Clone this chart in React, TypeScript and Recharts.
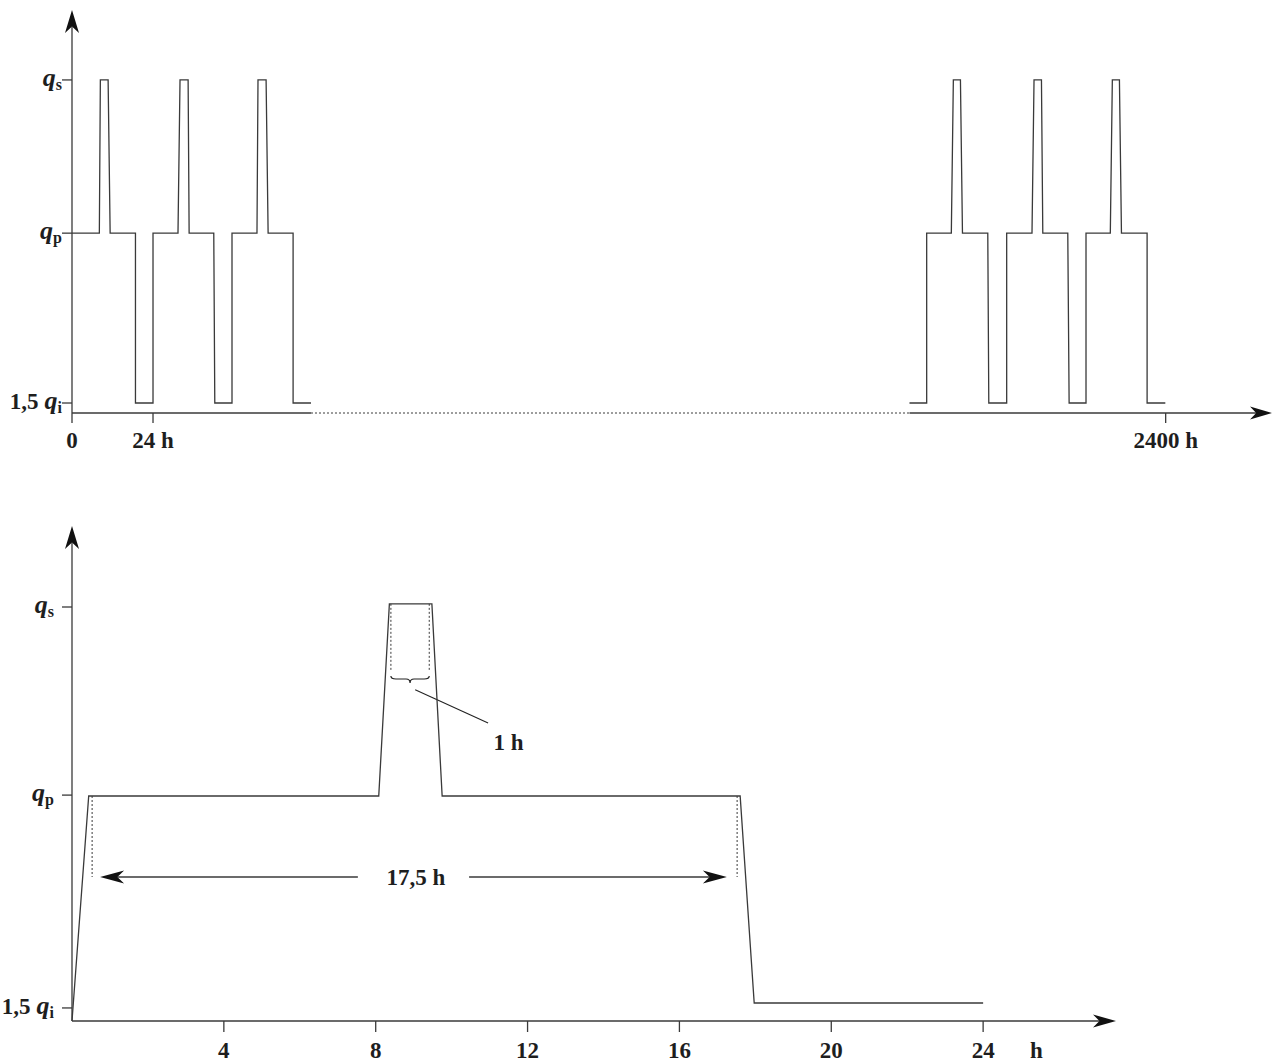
import React from 'react';
import { LineChart, Line, XAxis, YAxis, ReferenceLine, ReferenceDot } from 'recharts';

const FONT = '"Liberation Serif", "DejaVu Serif", serif';
const INK = '#3a3a3a';
const TEXT = '#1e1e1e';

// ---------- top chart (virtual time axis: 24 h per day, broken between day 3 and day 98) ----------
const TOP_QI = 3;
const TOP_QP = 54;
const TOP_QS = 100;

const topFirstT = [0, 8.1, 8.4, 10.7, 11.3, 18.8, 18.8, 24, 24, 31.4, 32, 34.4, 34.7, 42, 42.3, 47.4, 47.4, 54.8, 55.1, 57.5, 58.1, 65.5, 65.5, 70.8];
const topFirstQ = [TOP_QP, TOP_QP, TOP_QS, TOP_QS, TOP_QP, TOP_QP, TOP_QI, TOP_QI, TOP_QP, TOP_QP, TOP_QS, TOP_QS, TOP_QP, TOP_QP, TOP_QI, TOP_QI, TOP_QP, TOP_QP, TOP_QS, TOP_QS, TOP_QP, TOP_QP, TOP_QI, TOP_QI];
const topLastT = [248.1, 253.2, 253.2, 260.5, 261.1, 263.2, 263.8, 271.3, 271.6, 276.9, 276.9, 284.4, 285.0, 287.2, 287.6, 295.0, 295.4, 300.4, 300.4, 307.6, 308.2, 310.3, 310.9, 318.5, 318.5, 323.9];
const topLastQ = [TOP_QI, TOP_QI, TOP_QP, TOP_QP, TOP_QS, TOP_QS, TOP_QP, TOP_QP, TOP_QI, TOP_QI, TOP_QP, TOP_QP, TOP_QS, TOP_QS, TOP_QP, TOP_QP, TOP_QI, TOP_QI, TOP_QP, TOP_QP, TOP_QS, TOP_QS, TOP_QP, TOP_QP, TOP_QI, TOP_QI];

const topXTicks = [0, 24, 324];
const topXLabels = ['0', '24 h', '2400 h'];
const topYTicks = [TOP_QI, TOP_QP, TOP_QS];
const TOP_X_MAX = 355.5;
const TOP_Y_MAX = 121;
const TOP_GAP_START = 70.8;
const TOP_GAP_END = 248.1;

// ---------- bottom chart (one day, hours) ----------
const BOT_QI = 4;
const BOT_QP = 50;
const BOT_QS = 92.7;

const botT = [0, 0.44, 8.08, 8.36, 9.48, 9.75, 17.6, 17.97, 24];
const botQ = [0, BOT_QP, BOT_QP, BOT_QS, BOT_QS, BOT_QP, BOT_QP, BOT_QI, BOT_QI];

const botXTicks = [4, 8, 12, 16, 20, 24, 25.4];
const botXLabels = ['4', '8', '12', '16', '20', '24', 'h'];
const botYTicks = [2.9, 50.2, 92];
const BOT_X_MAX = 27.5;
const BOT_Y_MAX = 110;

// annotation values (hours / level units)
const spanStart = 0.53;
const spanEnd = 17.52;
const spanArrowLeftTip = 0.74;
const spanArrowRightTip = 17.25;
const spanGapLeft = 7.53;
const spanGapRight = 10.46;
const spanLevel = 32;
const spanLabel = '17,5 h';
const spanLabelT = 9.06;

const peakDotLeft = 8.4;
const peakDotRight = 9.41;
const peakDotBottom = 77.8;
const braceLevel = 76;
const leaderFrom = { x: 9.04, y: 73.6 };
const leaderTo = { x: 10.96, y: 66.2 };
const peakLabel = '1 h';
const peakLabelPos = { x: 11.5, y: 62 };

// shared tick label parts
const yTickPrefix = ['1,5', '', ''];
const yTickSub = ['i', 'p', 's'];

const topData = [
  ...topFirstT.map((t, i) => ({ t, q: topFirstQ[i] as number | null })),
  { t: (TOP_GAP_START + TOP_GAP_END) / 2, q: null },
  ...topLastT.map((t, i) => ({ t, q: topLastQ[i] as number | null })),
];
const botData = botT.map((t, i) => ({ t, q: botQ[i] }));

type SegOpts = { head?: boolean; dash?: string; len?: number; half?: number; w?: number; color?: string };
const seg = (o: SegOpts) => (p: any) => {
  const { x1, y1, x2, y2 } = p;
  const dx = x2 - x1;
  const dy = y2 - y1;
  const L = Math.sqrt(dx * dx + dy * dy) || 1;
  const ux = dx / L;
  const uy = dy / L;
  const len = o.len ?? 23;
  const half = o.half ?? 7;
  const nx = -uy;
  const ny = ux;
  const bx = x2 - ux * len;
  const by = y2 - uy * len;
  const mx = x2 - ux * len * 0.72;
  const my = y2 - uy * len * 0.72;
  const color = o.color ?? INK;
  return (
    <g>
      <line
        x1={x1}
        y1={y1}
        x2={o.head ? mx : x2}
        y2={o.head ? my : y2}
        stroke={color}
        strokeWidth={o.w ?? 1.3}
        strokeDasharray={o.dash}
      />
      {o.head && (
        <polygon
          points={`${x2},${y2} ${bx + nx * half},${by + ny * half} ${mx},${my} ${bx - nx * half},${by - ny * half}`}
          fill="#111"
        />
      )}
    </g>
  );
};

const braceShape = (p: any) => {
  const { x1, y1, x2 } = p;
  const y = y1;
  const xm = (x1 + x2) / 2;
  const d = `M ${x1} ${y - 3} Q ${x1} ${y} ${x1 + 5} ${y} L ${xm - 4} ${y} Q ${xm} ${y} ${xm} ${y + 4} Q ${xm} ${y} ${xm + 4} ${y} L ${x2 - 5} ${y} Q ${x2} ${y} ${x2} ${y - 3}`;
  return <path d={d} fill="none" stroke="#222" strokeWidth={1.2} />;
};

const textShape = (label: string) => (p: any) => (
  <text x={p.cx} y={p.cy + 8} textAnchor="middle" fontFamily={FONT} fontWeight="bold" fontSize={23} fill={TEXT}>
    {label}
  </text>
);

const makeYTick = (ticks: number[], labelRight: number) => (props: any) => {
  const { x, y, payload } = props;
  const i = ticks.indexOf(payload.value);
  const prefix = yTickPrefix[i] ?? '';
  const sub = yTickSub[i] ?? '';
  return (
    <g>
      <line x1={x - 10} y1={y} x2={x} y2={y} stroke={INK} strokeWidth={1.3} />
      <text x={labelRight} y={y + 6} textAnchor="end" fontFamily={FONT} fontWeight="bold" fontSize={23} fill={TEXT}>
        {prefix ? <tspan>{prefix}</tspan> : null}
        <tspan fontStyle="italic" fontSize={26} dx={prefix ? 6 : 0}>q</tspan>
        <tspan fontSize={16} dy={4}>{sub}</tspan>
      </text>
    </g>
  );
};

const makeXTick = (ticks: number[], labels: string[], tickLen: number, textOffset: number, noLine: string[]) => (props: any) => {
  const { x, y, payload } = props;
  const i = ticks.indexOf(payload.value);
  const label = labels[i] ?? '';
  return (
    <g>
      {!noLine.includes(label) && <line x1={x} y1={y} x2={x} y2={y + tickLen} stroke={INK} strokeWidth={1.3} />}
      <text x={x} y={y + textOffset} textAnchor="middle" fontFamily={FONT} fontWeight="bold" fontSize={23} fill={TEXT}>
        {label}
      </text>
    </g>
  );
};

export default function App() {
  return (
    <div style={{ position: 'absolute', left: 0, top: 0, width: 1273, height: 1063, background: '#fff' }}>
      <div style={{ position: 'absolute', left: 0, top: 0 }}>
        <LineChart width={1273} height={470} data={topData} margin={{ top: 10, right: 1, bottom: 0, left: 0 }}>
          <XAxis
            dataKey="t"
            type="number"
            domain={[0, TOP_X_MAX]}
            ticks={topXTicks}
            interval={0}
            height={57}
            axisLine={false}
            tickLine={false}
            tickSize={0}
            tickMargin={0}
            tick={makeXTick(topXTicks, topXLabels, 10, 35, [])}
          />
          <YAxis
            type="number"
            domain={[0, TOP_Y_MAX]}
            ticks={topYTicks}
            interval={0}
            width={72}
            axisLine={false}
            tickLine={false}
            tickSize={0}
            tickMargin={0}
            tick={makeYTick(topYTicks, 62)}
          />
          <ReferenceLine segment={[{ x: 0, y: 0 }, { x: 0, y: TOP_Y_MAX }]} ifOverflow="visible" shape={seg({ head: true, len: 23, half: 7 })} />
          <ReferenceLine segment={[{ x: 0, y: 0 }, { x: TOP_GAP_START, y: 0 }]} ifOverflow="visible" shape={seg({})} />
          <ReferenceLine segment={[{ x: TOP_GAP_START, y: 0 }, { x: TOP_GAP_END, y: 0 }]} ifOverflow="visible" shape={seg({ dash: '2 2', w: 1 })} />
          <ReferenceLine segment={[{ x: TOP_GAP_END, y: 0 }, { x: TOP_X_MAX, y: 0 }]} ifOverflow="visible" shape={seg({ head: true, len: 22, half: 6.5 })} />
          <Line dataKey="q" type="linear" stroke={INK} strokeWidth={1.3} dot={false} activeDot={false} isAnimationActive={false} />
        </LineChart>
      </div>
      <div style={{ position: 'absolute', left: 0, top: 500 }}>
        <LineChart width={1273} height={563} data={botData} margin={{ top: 26, right: 157, bottom: 0, left: 0 }}>
          <XAxis
            dataKey="t"
            type="number"
            domain={[0, BOT_X_MAX]}
            ticks={botXTicks}
            interval={0}
            height={42}
            axisLine={false}
            tickLine={false}
            tickSize={0}
            tickMargin={0}
            tick={makeXTick(botXTicks, botXLabels, 11, 37, ['h'])}
          />
          <YAxis
            type="number"
            domain={[0, BOT_Y_MAX]}
            ticks={botYTicks}
            interval={0}
            width={72}
            axisLine={false}
            tickLine={false}
            tickSize={0}
            tickMargin={0}
            tick={makeYTick(botYTicks, 54)}
          />
          <ReferenceLine segment={[{ x: 0, y: 0 }, { x: 0, y: BOT_Y_MAX }]} ifOverflow="visible" shape={seg({ head: true, len: 23, half: 7 })} />
          <ReferenceLine segment={[{ x: 0, y: 0 }, { x: BOT_X_MAX, y: 0 }]} ifOverflow="visible" shape={seg({ head: true, len: 23, half: 6.5 })} />

          <ReferenceLine segment={[{ x: spanStart, y: BOT_QP }, { x: spanStart, y: spanLevel }]} ifOverflow="visible" shape={seg({ dash: '2 2', w: 1 })} />
          <ReferenceLine segment={[{ x: spanEnd, y: BOT_QP }, { x: spanEnd, y: spanLevel }]} ifOverflow="visible" shape={seg({ dash: '2 2', w: 1 })} />
          <ReferenceLine segment={[{ x: spanGapLeft, y: spanLevel }, { x: spanArrowLeftTip, y: spanLevel }]} ifOverflow="visible" shape={seg({ head: true, len: 24, half: 6.5 })} />
          <ReferenceLine segment={[{ x: spanGapRight, y: spanLevel }, { x: spanArrowRightTip, y: spanLevel }]} ifOverflow="visible" shape={seg({ head: true, len: 24, half: 6.5 })} />
          <ReferenceDot x={spanLabelT} y={spanLevel} ifOverflow="visible" shape={textShape(spanLabel)} />

          <ReferenceLine segment={[{ x: peakDotLeft, y: BOT_QS }, { x: peakDotLeft, y: peakDotBottom }]} ifOverflow="visible" shape={seg({ dash: '2 2', w: 1 })} />
          <ReferenceLine segment={[{ x: peakDotRight, y: BOT_QS }, { x: peakDotRight, y: peakDotBottom }]} ifOverflow="visible" shape={seg({ dash: '2 2', w: 1 })} />
          <ReferenceLine segment={[{ x: peakDotLeft, y: braceLevel }, { x: peakDotRight, y: braceLevel }]} ifOverflow="visible" shape={braceShape} />
          <ReferenceLine segment={[leaderFrom, leaderTo]} ifOverflow="visible" shape={seg({ w: 1.1, color: '#222' })} />
          <ReferenceDot x={peakLabelPos.x} y={peakLabelPos.y} ifOverflow="visible" shape={textShape(peakLabel)} />

          <Line dataKey="q" type="linear" stroke={INK} strokeWidth={1.3} dot={false} activeDot={false} isAnimationActive={false} />
        </LineChart>
      </div>
    </div>
  );
}
